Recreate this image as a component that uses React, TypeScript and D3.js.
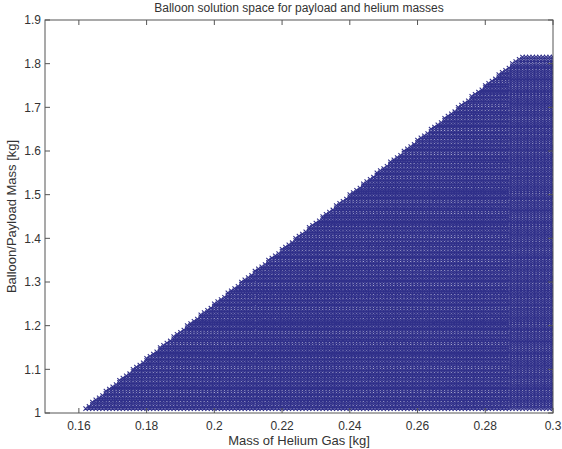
import React from 'react'
import * as d3 from 'd3'

// helium mass ticks and the largest balloon/payload mass each one can carry
const heliumTicks = [0.16, 0.18, 0.2, 0.22, 0.24, 0.26, 0.28, 0.3]
const payloadTicks = [1, 1.1, 1.2, 1.3, 1.4, 1.5, 1.6, 1.7, 1.8, 1.9]
const liftEdgeHelium = [0.16, 0.18, 0.2, 0.22, 0.24, 0.26, 0.28, 0.3]
const liftEdgePayload = [1.0, 1.125, 1.25, 1.375, 1.5, 1.625, 1.75, 1.875]

// sampled grid of the search: start, stop, step
const heliumSweep = [0.15, 0.3, 0.001]
const payloadSweep = [1.01, 1.815, 0.005]

const sweep = ([start, stop, step]: number[]) =>
  d3.range(0, Math.round((stop - start) / step) + 1).map(i => start + i * step)

function App() {
  const width = 562
  const height = 449
  const margin = { top: 20, right: 9, bottom: 36, left: 45 }
  const innerW = width - margin.left - margin.right
  const innerH = height - margin.top - margin.bottom

  const x = d3.scaleLinear().domain([0.15, 0.3]).range([0, innerW])
  const y = d3.scaleLinear().domain([1, 1.9]).range([innerH, 0])
  const liftEdge = d3.scaleLinear().domain(liftEdgeHelium).range(liftEdgePayload)

  const heliumValues = sweep(heliumSweep)
  const payloadValues = sweep(payloadSweep)

  // every feasible (helium, payload) pair becomes an 'x' marker, all in one path
  const r = 2.2
  let markers = ''
  heliumValues.forEach(h => {
    const top = liftEdge(h)
    payloadValues.forEach(p => {
      if (p <= top + 1e-9) {
        const cx = x(h)
        const cy = y(p)
        markers += `M${(cx - r).toFixed(2)} ${(cy - r).toFixed(2)}L${(cx + r).toFixed(2)} ${(cy + r).toFixed(2)}M${(cx - r).toFixed(2)} ${(cy + r).toFixed(2)}L${(cx + r).toFixed(2)} ${(cy - r).toFixed(2)}`
      }
    })
  })

  const axisColor = '#555'
  const textColor = '#333'
  const font = 'Liberation Sans, Arial, sans-serif'
  const tick = 5

  return (
    <svg width={width} height={height} style={{ position: 'absolute', left: 0, top: 0 }} fontFamily={font}>
      <defs>
        <clipPath id="plot-area">
          <rect width={innerW} height={innerH} />
        </clipPath>
      </defs>
      <text x={margin.left + innerW / 2} y={12} textAnchor="middle" fontSize="12" fill={textColor}>
        Balloon solution space for payload and helium masses
      </text>
      <g transform={`translate(${margin.left} ${margin.top})`}>
        <rect width={innerW} height={innerH} fill="#fff" />
        <path d={markers} fill="none" stroke="#30308a" strokeWidth="1.1" clipPath="url(#plot-area)" />

        {/* box with inward ticks on all four sides */}
        <rect width={innerW} height={innerH} fill="none" stroke={axisColor} strokeWidth="1" />
        {heliumTicks.map(t => (
          <g key={t} transform={`translate(${x(t)} 0)`}>
            <path d={`M0 ${innerH}V${innerH - tick}M0 0V${tick}`} stroke={axisColor} />
            <text y={innerH + 17} textAnchor="middle" fontSize="12" fill={textColor}>{t}</text>
          </g>
        ))}
        {payloadTicks.map(t => (
          <g key={t} transform={`translate(0 ${y(t)})`}>
            <path d={`M0 0H${tick}M${innerW} 0H${innerW - tick}`} stroke={axisColor} />
            <text x={-4} dy="0.35em" textAnchor="end" fontSize="12" fill={textColor}>{t}</text>
          </g>
        ))}
      </g>
      <text x={margin.left + innerW / 2} y={445} textAnchor="middle" fontSize="13" fill={textColor}>
        Mass of Helium Gas [kg]
      </text>
      <text transform={`translate(16 ${margin.top + innerH / 2}) rotate(-90)`} textAnchor="middle" fontSize="13" fill={textColor}>
        Balloon/Payload Mass [kg]
      </text>
    </svg>
  )
}

export default App
